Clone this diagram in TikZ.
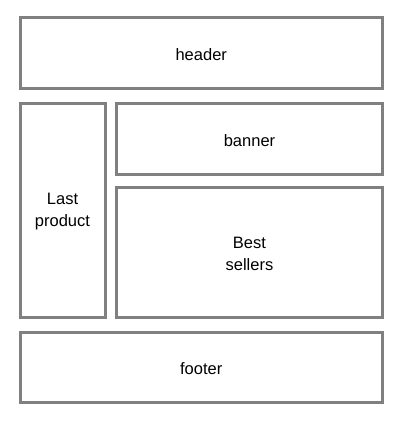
\documentclass[tikz,border=0pt]{standalone}
\usepackage{fontspec}
\setmainfont{Liberation Sans}
\begin{document}
\begin{tikzpicture}[x=1pt,y=-1pt,
  panel/.style={draw=boxgray,line width=3pt},
  label/.style={align=center,yshift=-1.5pt,
    font=\fontsize{16.5}{22}\selectfont}]
\definecolor{boxgray}{HTML}{808080}
\useasboundingbox (0,0) rectangle (409,424);
% page regions
\draw[panel] (20,17.5) rectangle (382.5,88.5) node[midway,label] (header) {header};
\draw[panel] (20,103.5) rectangle (105,317) node[midway,label] (last) {Last\\product};
\draw[panel] (116.5,103.5) rectangle (382.5,174) node[midway,label] (banner) {banner};
\draw[panel] (116.5,187) rectangle (382.5,317) node[midway,label] (best) {Best\\sellers};
\draw[panel] (20,332) rectangle (382.5,402.5) node[midway,label] (footer) {footer};
\end{tikzpicture}
\end{document}
